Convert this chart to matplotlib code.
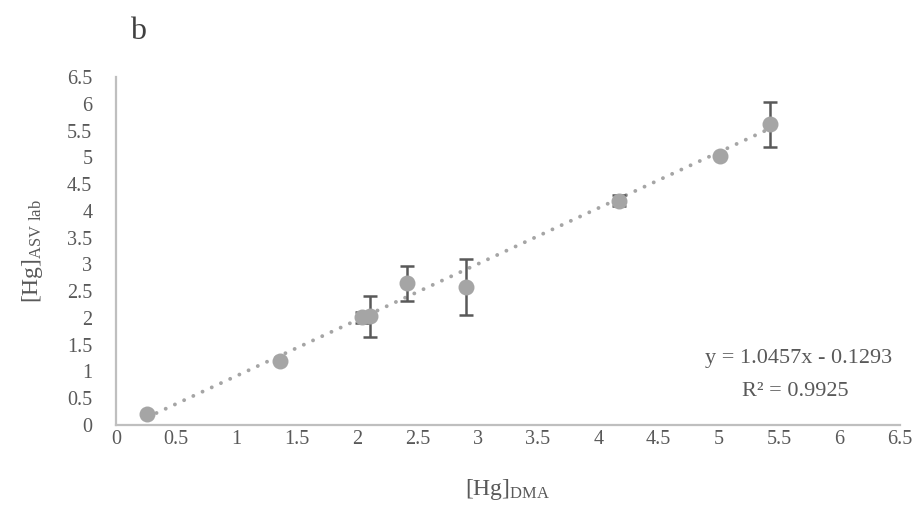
import matplotlib
matplotlib.use("Agg")
import matplotlib.pyplot as plt
import numpy as np

# Data
x_dma = [0.26, 1.36, 2.04, 2.11, 2.41, 2.90, 4.17, 5.01, 5.42]
y_asv = [0.21, 1.20, 2.01, 2.03, 2.65, 2.58, 4.19, 5.02, 5.62]
y_err = [0.0, 0.0, 0.10, 0.38, 0.33, 0.52, 0.10, 0.0, 0.42]
slope, intercept = 1.0457, -0.1293
r2 = 0.9925
ticks = [0, 0.5, 1, 1.5, 2, 2.5, 3, 3.5, 4, 4.5, 5, 5.5, 6, 6.5]
tick_labels = ["0", "0.5", "1", "1.5", "2", "2.5", "3", "3.5", "4", "4.5", "5", "5.5", "6", "6.5"]

FONT = "Liberation Serif"
plt.rcParams["font.family"] = [FONT, "DejaVu Serif"]
plt.rcParams["mathtext.fontset"] = "custom"
plt.rcParams["mathtext.rm"] = FONT
plt.rcParams["mathtext.it"] = FONT
TXT = "#595959"

fig = plt.figure(figsize=(9.2, 5.22), dpi=100)
ax = fig.add_axes([0.126, 0.186, 0.852, 0.666])

# trendline
xs = np.array([min(x_dma), max(x_dma)])
ax.plot(xs, slope * xs + intercept, linestyle=(0, (0.01, 2.6)), color="#a5a5a5",
        linewidth=2.8, dash_capstyle="round", zorder=2)

ax.errorbar(x_dma, y_asv, yerr=y_err, fmt="none", ecolor="#595959",
            elinewidth=1.8, capsize=4.8, capthick=1.8, zorder=3)
ax.plot(x_dma, y_asv, "o", color="#a5a5a5", markersize=11.5, markeredgewidth=0, zorder=4)

ax.set_xlim(0, 6.5)
ax.set_ylim(0, 6.5)
ax.set_xticks(ticks)
ax.set_xticklabels(tick_labels)
ax.set_yticks(ticks)
ax.set_yticklabels(tick_labels)
ax.tick_params(length=0, labelsize=14.5, colors=TXT)
ax.tick_params(axis="x", pad=4)
ax.tick_params(axis="y", pad=17)
for s in ["top", "right"]:
    ax.spines[s].set_visible(False)
for s in ["left", "bottom"]:
    ax.spines[s].set_color("#bfbfbf")
    ax.spines[s].set_linewidth(1.6)

ax.set_xlabel(r"[Hg]$_{\mathrm{DMA}}$", fontsize=17, color=TXT, labelpad=20)
ax.set_ylabel(r"[Hg]$_{\mathrm{ASV\ lab}}$", fontsize=17, color=TXT, labelpad=16)

ax.text(0.99, 0.19, "y = %.4fx - %.4f" % (slope, abs(intercept)), transform=ax.transAxes,
        ha="right", va="center", fontsize=16, color=TXT)
ax.text(0.935, 0.095, "R² = %.4f" % r2, transform=ax.transAxes,
        ha="right", va="center", fontsize=16, color=TXT)

fig.text(130 / 920, 1 - 31 / 522, "b", fontsize=23, color="#404040", va="center", ha="left")

fig.savefig("out.png", dpi=100)
